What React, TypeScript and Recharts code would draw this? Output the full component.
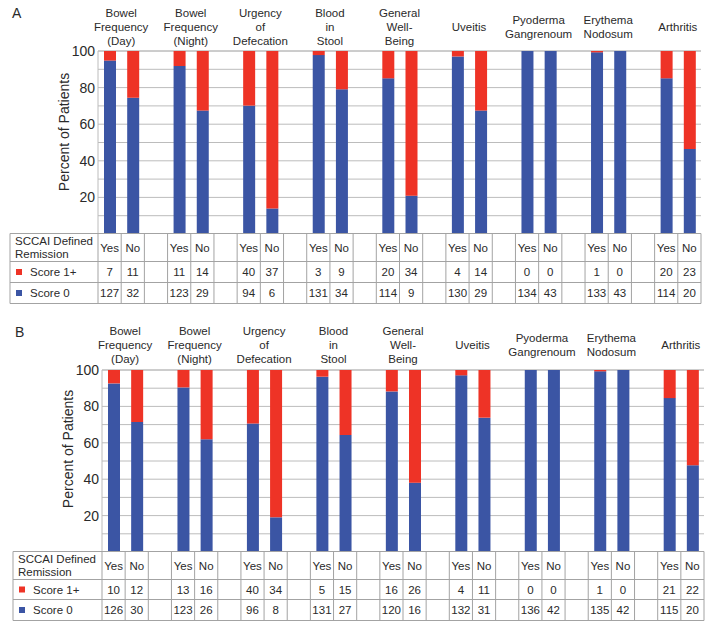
import { BarChart, Bar, XAxis, YAxis, CartesianGrid } from 'recharts';

const categories = [
  ['Bowel', 'Frequency', '(Day)'],
  ['Bowel', 'Frequency', '(Night)'],
  ['Urgency', 'of', 'Defecation'],
  ['Blood', 'in', 'Stool'],
  ['General', 'Well-', 'Being'],
  ['Uveitis'],
  ['Pyoderma', 'Gangrenoum'],
  ['Erythema', 'Nodosum'],
  ['Arthritis'],
];
const remission = ['Yes', 'No'];

// counts per category as [Yes, No]
const scoreOnePlusA = [[7, 11], [11, 14], [40, 37], [3, 9], [20, 34], [4, 14], [0, 0], [1, 0], [20, 23]];
const scoreZeroA = [[127, 32], [123, 29], [94, 6], [131, 34], [114, 9], [130, 29], [134, 43], [133, 43], [114, 20]];
const scoreOnePlusB = [[10, 12], [13, 16], [40, 34], [5, 15], [16, 26], [4, 11], [0, 0], [1, 0], [21, 22]];
const scoreZeroB = [[126, 30], [123, 26], [96, 8], [131, 27], [120, 16], [132, 31], [136, 42], [135, 42], [115, 20]];

const percentTicks = [10, 20, 30, 40, 50, 60, 70, 80, 90, 100];

const RED = '#ee3326';
const BLUE = '#3b55a4';
const GRID = '#bcbcbc';
const BORDER = '#a3a3a3';
const TEXT = '#2a2a2a';
const FONT = '"Liberation Sans", Arial, Helvetica, sans-serif';

type Row = { key: string; zero?: number; one?: number };

function buildRows(one: number[][], zero: number[][]): Row[] {
  const rows: Row[] = [];
  categories.forEach((_, i) => {
    remission.forEach((r, j) => {
      const total = one[i][j] + zero[i][j];
      rows.push({ key: `${i}-${r}`, zero: (zero[i][j] / total) * 100, one: (one[i][j] / total) * 100 });
    });
    if (i < categories.length - 1) rows.push({ key: `${i}-gap` });
  });
  return rows;
}

interface Geo {
  letter: string;
  letterY: number;
  titleY: number;
  plotLeft: number;
  plotRight: number;
  plotTop: number;
  plotBottom: number;
  tableLeft: number;
  rowYs: number[];
  yLabelX: number;
  yLabelY: number;
}

function Panel({ geo, one, zero }: { geo: Geo; one: number[][]; zero: number[][] }) {
  const rows = buildRows(one, zero);
  const slot = (geo.plotRight - geo.plotLeft) / rows.length;
  const padTop = 10;
  const [r0, r1, r2, r3] = geo.rowYs;

  const colXs = [geo.tableLeft, geo.plotLeft];
  for (let k = 1; k <= rows.length; k++) colXs.push(geo.plotLeft + k * slot);

  const cells: JSX.Element[] = [];
  categories.forEach((_, i) => {
    remission.forEach((r, j) => {
      const cx = geo.plotLeft + slot * (i * 3 + j + 0.5);
      cells.push(
        <text key={`h${i}${j}`} x={cx} y={(r0 + r1) / 2 + 4.2} textAnchor="middle">{r}</text>,
        <text key={`a${i}${j}`} x={cx} y={(r1 + r2) / 2 + 4.2} textAnchor="middle">{one[i][j]}</text>,
        <text key={`b${i}${j}`} x={cx} y={(r2 + r3) / 2 + 4.2} textAnchor="middle">{zero[i][j]}</text>,
      );
    });
  });

  return (
    <>
      <div style={{ position: 'absolute', left: 0, top: geo.plotTop - padTop }}>
        <BarChart
          width={714}
          height={geo.plotBottom - geo.plotTop + padTop}
          data={rows}
          margin={{ top: padTop, right: 714 - geo.plotRight, bottom: 0, left: 0 }}
          barSize={12}
        >
          <CartesianGrid vertical={false} stroke={GRID} />
          <XAxis dataKey="key" hide padding={{ left: 0, right: 0 }} />
          <YAxis
            width={geo.plotLeft}
            domain={[0, 100]}
            ticks={percentTicks}
            tickFormatter={(v: number) => (v % 20 === 0 ? String(v) : '')}
            axisLine={{ stroke: GRID }}
            tickLine={false}
            tickSize={0}
            tickMargin={3}
            tick={{ fontSize: 14, fill: TEXT, fontFamily: FONT }}
          />
          <Bar dataKey="zero" stackId="s" fill={BLUE} isAnimationActive={false} />
          <Bar dataKey="one" stackId="s" fill={RED} isAnimationActive={false} />
        </BarChart>
      </div>
      <svg
        width={714}
        height={631}
        style={{ position: 'absolute', left: 0, top: 0, pointerEvents: 'none' }}
        fontFamily={FONT}
        fill={TEXT}
      >
        <text x={geo.tableLeft + 2} y={geo.letterY + 5} fontSize={14}>{geo.letter}</text>
        <text
          transform={`translate(${geo.yLabelX},${geo.yLabelY}) rotate(-90)`}
          textAnchor="middle"
          dominantBaseline="central"
          fontSize={14}
        >
          Percent of Patients
        </text>
        {categories.map((lines, i) => {
          const cx = geo.plotLeft + slot * (i * 3 + 1);
          const start = geo.titleY - ((lines.length - 1) * 14) / 2;
          return (
            <text key={i} x={cx} textAnchor="middle" fontSize={11.5}>
              {lines.map((l, k) => (
                <tspan key={k} x={cx} y={start + k * 14 + 4}>{l}</tspan>
              ))}
            </text>
          );
        })}
        <g stroke={BORDER} strokeWidth={1}>
          {geo.rowYs.map((y) => (
            <line key={y} x1={geo.tableLeft} x2={geo.plotRight} y1={y} y2={y} />
          ))}
          {colXs.map((x, k) => (
            <line key={k} x1={x} x2={x} y1={r0} y2={r3} />
          ))}
        </g>
        <g fontSize={11.5}>
          <text x={geo.tableLeft + 5} y={(r0 + r1) / 2 - 6.5 + 4.2}>SCCAI Defined</text>
          <text x={geo.tableLeft + 5} y={(r0 + r1) / 2 + 6.5 + 4.2}>Remission</text>
          <rect x={geo.tableLeft + 6} y={(r1 + r2) / 2 - 3} width={6} height={6} fill={RED} />
          <text x={geo.tableLeft + 20} y={(r1 + r2) / 2 + 4.2}>Score 1+</text>
          <rect x={geo.tableLeft + 6} y={(r2 + r3) / 2 - 3} width={6} height={6} fill={BLUE} />
          <text x={geo.tableLeft + 20} y={(r2 + r3) / 2 + 4.2}>Score 0</text>
          {cells}
        </g>
      </svg>
    </>
  );
}

const geoA: Geo = {
  letter: 'A', letterY: 13, titleY: 27,
  plotLeft: 98, plotRight: 701, plotTop: 51, plotBottom: 234,
  tableLeft: 10, rowYs: [233.5, 261.5, 282.5, 303.5],
  yLabelX: 64, yLabelY: 132,
};
const geoB: Geo = {
  letter: 'B', letterY: 332, titleY: 344.5,
  plotLeft: 102, plotRight: 704, plotTop: 370, plotBottom: 552,
  tableLeft: 13, rowYs: [551.5, 579.5, 599.5, 620.5],
  yLabelX: 68, yLabelY: 449,
};

export default function App() {
  return (
    <div style={{ position: 'absolute', left: 0, top: 0, width: 714, height: 631, background: '#fff', fontFamily: FONT }}>
      <Panel geo={geoA} one={scoreOnePlusA} zero={scoreZeroA} />
      <Panel geo={geoB} one={scoreOnePlusB} zero={scoreZeroB} />
    </div>
  );
}
